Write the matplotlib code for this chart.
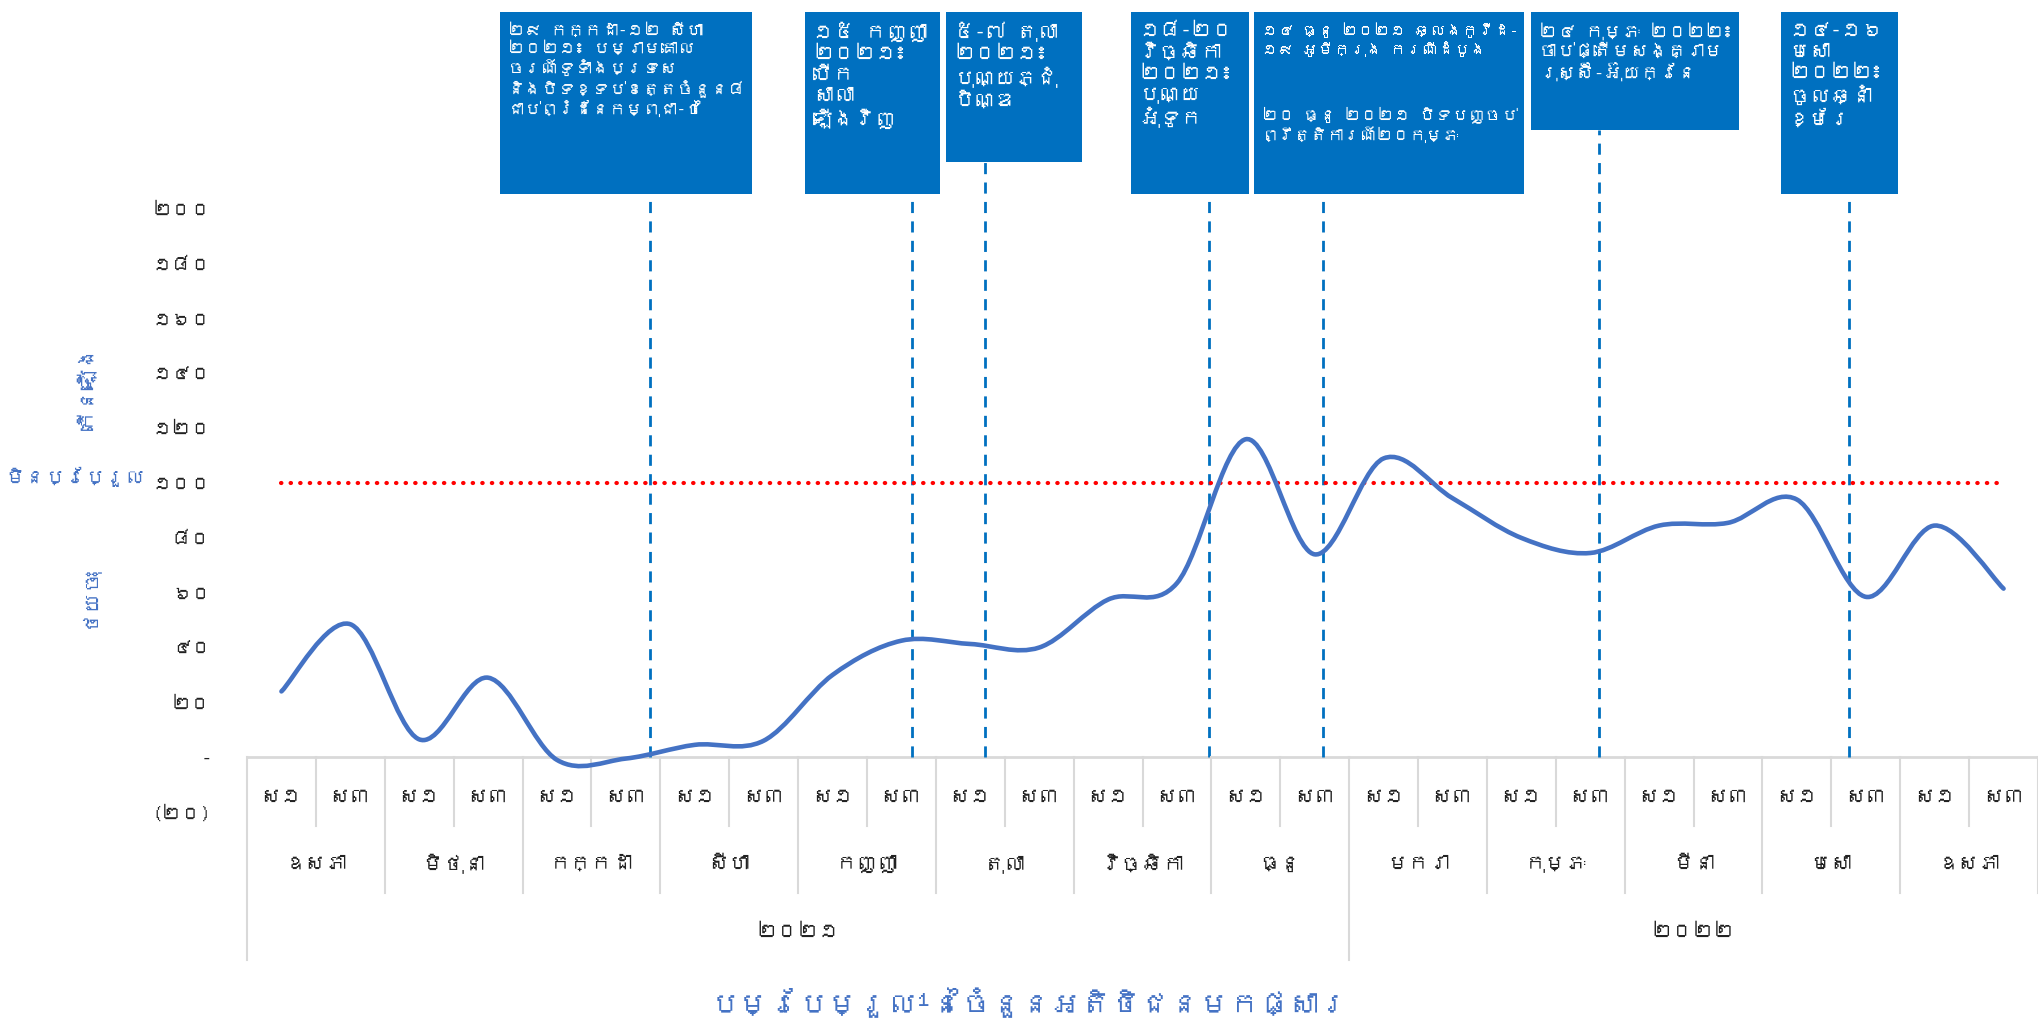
import matplotlib
matplotlib.use("Agg")
import matplotlib.pyplot as plt
import numpy as np
from matplotlib import font_manager
from matplotlib.ft2font import FT2Font
from matplotlib.path import Path
from matplotlib.patches import PathPatch, Rectangle
from matplotlib.transforms import blended_transform_factory

# ---- data ----
halves = ["ស១", "ស៣"]
months = ["ឧសភា", "មិថុនា", "កក្កដា", "សីហា", "កញ្ញា", "តុលា", "វិច្ឆិកា", "ធ្នូ",
          "មករា", "កុម្ភៈ", "មីនា", "មេសា", "ឧសភា"]
years = ["២០២១", "២០២២"]
months_per_year = [8, 5]
values = [24, 48.5, 6.5, 29, -1, -0.5, 4.5, 6, 30, 42.5, 41.3, 40, 57.5, 63.5,
          116, 74, 109, 94.5, 80, 74.5, 84.5, 85.5, 94, 58.5, 84.5, 61.5]
baseline = 100
yticks = [-20, 0, 20, 40, 60, 80, 100, 120, 140, 160, 180, 200]
ytick_labels = ["(២០)", "-", "២០", "៤០", "៦០", "៨០", "១០០", "១២០", "១៤០", "១៦០", "១៨០", "២០០"]

events_x = [5.35, 9.15, 10.21, 13.47, 15.12, 19.12, 22.76]
events_text = [
    ["២៩ កក្កដា-១២ សីហា\n២០២១៖ បម្រាមគោល\nចរណ៍ទូទាំងប្រទេស\nនិងបិទខ្ទប់ខេត្តចំនួន៨\nជាប់ព្រំដែនកម្ពុជា-ថៃ"],
    ["១៥ កញ្ញា\n២០២១៖\nបើក\nសាលា\nឡើងវិញ"],
    ["៥-៧ តុលា\n២០២១៖\nបុណ្យភ្ជុំ\nបិណ្ឌ"],
    ["១៨-២០\nវិច្ឆិកា\n២០២១៖\nបុណ្យ\nអុំទូក"],
    ["១៤ ធ្នូ ២០២១ ឆ្លងកូវីដ-\n១៩ អូមីក្រុង ករណីដំបូង",
     "២០ ធ្នូ ២០២១ បិទបញ្ចប់\nព្រឹត្តិការណ៍២០កុម្ភៈ"],
    ["២៤ កុម្ភៈ ២០២២៖\nចាប់ផ្តើមសង្គ្រាម\nរុស្ស៊ី-អ៊ុយក្រែន"],
    ["១៤-១៦\nមេសា\n២០២២៖\nចូលឆ្នាំ\nខ្មែរ"],
]
title = "បម្រែបម្រួល¹នៃចំនួនអតិថិជនមកផ្សារ"

# ---- fonts: look for anything that has Khmer glyphs ----
khmer_fonts = []
for f in font_manager.fontManager.ttflist:
    try:
        if 0x1780 in FT2Font(f.fname).get_charmap() and f.name not in khmer_fonts:
            khmer_fonts.append(f.name)
    except Exception:
        pass
plt.rcParams["font.family"] = khmer_fonts + ["DejaVu Sans"]

W, H = 2038, 1026
def fx(px):
    return px / W
def fy(py):
    return 1 - py / H

blue = "#4472C4"
box_blue = "#0070C0"
grid_gray = "#D9D9D9"
dark = "#222222"

fig = plt.figure(figsize=(W / 100, H / 100), dpi=100)
ax = fig.add_axes([fx(247), fy(812), fx(2038) - fx(247), fy(209) - fy(812)])

n = len(values)
x = np.arange(n)
ax.set_xlim(-0.5, n - 0.5)
ax.set_ylim(-20, 200)

# smoothed line (Catmull-Rom as cubic Bezier, like Excel's smoothed line)
pts = np.column_stack([x, values]).astype(float)
ext = np.vstack([pts[0], pts, pts[-1]])
verts = [tuple(pts[0])]
codes = [Path.MOVETO]
for i in range(n - 1):
    p0, p1, p2, p3 = ext[i], ext[i + 1], ext[i + 2], ext[i + 3]
    c1 = p1 + (p2 - p0) / 6
    c2 = p2 - (p3 - p1) / 6
    verts += [tuple(c1), tuple(c2), tuple(p2)]
    codes += [Path.CURVE4] * 3
ax.add_patch(PathPatch(Path(verts, codes), facecolor="none", edgecolor=blue,
                       lw=3.3, capstyle="round", zorder=3))

ax.plot(x, [baseline] * n, color="red", lw=3, linestyle=(0, (0.1, 2.2)),
        dash_capstyle="round", zorder=2)

# axes styling
for s in ax.spines.values():
    s.set_visible(False)
ax.axhline(0, color=grid_gray, lw=2, zorder=1)
ax.set_xticks([])
ax.set_yticks(yticks)
ax.set_yticklabels(ytick_labels, fontsize=14, color=dark)
ax.tick_params(axis="y", length=0, pad=26)

# multi-level category axis
bt = blended_transform_factory(ax.transData, fig.transFigure)
y_axis = fy(757)
for i in range(n + 1):
    xb = i - 0.5
    if i in (0, 16):
        bottom = 960
    elif i % 2 == 0:
        bottom = 893
    else:
        bottom = 826
    ax.plot([xb, xb], [y_axis, fy(bottom)], color=grid_gray, lw=1.5,
            transform=bt, clip_on=False)
for i in range(n):
    ax.text(i, fy(797), halves[i % 2], transform=bt, ha="center", va="center",
            fontsize=15, color=dark)
for j, m in enumerate(months):
    ax.text(2 * j + 0.5, fy(864), m, transform=bt, ha="center", va="center",
            fontsize=15, color=dark)
start = 0
for y_lab, cnt in zip(years, months_per_year):
    mid = start + cnt - 0.5
    ax.text(mid, fy(932), y_lab, transform=bt, ha="center", va="center",
            fontsize=15, color=dark)
    start += 2 * cnt

# side labels
fits = []
t = fig.text(fx(87), fy(388), "កើនឡើង", rotation=90, ha="center", va="center",
             fontsize=15, fontweight="bold", color=blue)
fits.append((t, 200, 100))
t = fig.text(fx(75), fy(477), "មិនប្រែប្រួល", ha="center", va="center",
             fontsize=15, fontweight="bold", color=blue)
fits.append((t, 140, 40))
t = fig.text(fx(87), fy(597), "ថយចុះ", rotation=90, ha="center", va="center",
             fontsize=15, fontweight="bold", color=blue)
fits.append((t, 200, 90))

t = fig.text(fx(1029), fy(1003), title, ha="center", va="center",
             fontsize=24, fontweight="bold", color=blue)
fits.append((t, 640, 60))

# event boxes with dashed leader lines
boxes = [(500, 752, 194), (805, 940, 194), (946, 1082, 162), (1131, 1249, 194),
         (1254, 1524, 194), (1531, 1739, 130), (1781, 1898, 194)]
for ex, (l, r, b), texts in zip(events_x, boxes, events_text):
    fig.patches.append(Rectangle((fx(l), fy(b)), fx(r) - fx(l), fy(12) - fy(b),
                                 transform=fig.transFigure, facecolor=box_blue,
                                 edgecolor="none", zorder=4))
    ax.plot([ex, ex], [y_axis, fy(b)], color=box_blue, lw=2,
            linestyle=(0, (4, 3)), transform=bt, clip_on=False, zorder=1)
    ty = 22
    avail_h = (b - 12 - 18) / len(texts) - (8 if len(texts) > 1 else 0)
    for tx in texts:
        t = fig.text(fx(l + 8), fy(ty), tx, ha="left", va="top", fontsize=15,
                     color="white", linespacing=1.2, zorder=5)
        fits.append((t, r - l - 14, avail_h))
        ty += 84

# shrink any text that does not fit its space
fig.canvas.draw()
renderer = fig.canvas.get_renderer()
for t, maxw, maxh in fits:
    bb = t.get_window_extent(renderer)
    k = min(1.0, maxw / bb.width, maxh / bb.height)
    if k < 1.0:
        t.set_fontsize(t.get_fontsize() * k)

fig.savefig("out.png", dpi=100)
